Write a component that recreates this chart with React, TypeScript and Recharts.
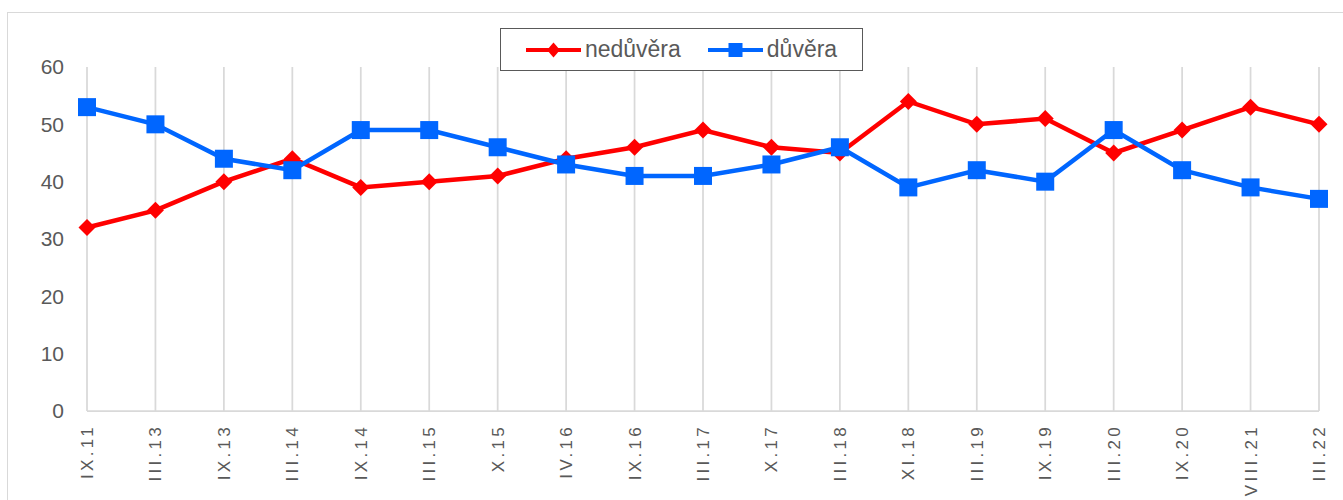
import React from "react";
import { CartesianGrid, Line, LineChart, XAxis, YAxis } from "recharts";

const obdobi = [
  "IX.11", "III.13", "IX.13", "III.14", "IX.14", "III.15", "X.15", "IV.16",
  "IX.16", "III.17", "X.17", "III.18", "XI.18", "III.19", "IX.19", "III.20",
  "IX.20", "VIII.21", "III.22",
];
const neduvera = [32, 35, 40, 44, 39, 40, 41, 44, 46, 49, 46, 45, 54, 50, 51, 45, 49, 53, 50];
const duvera = [53, 50, 44, 42, 49, 49, 46, 43, 41, 41, 43, 46, 39, 42, 40, 49, 42, 39, 37];
const yTicks = [0, 10, 20, 30, 40, 50, 60];

const data = obdobi.map((o, i) => ({ obdobi: o, neduvera: neduvera[i], duvera: duvera[i] }));

const RED = "#ff0000";
const BLUE = "#0066ff";
const FONT = "'Liberation Sans', Arial, sans-serif";

function Diamond(props: any) {
  const { cx, cy, fill, w = 8.5, h = 8.5 } = props;
  if (cx == null || cy == null) return null;
  return (
    <path
      d={`M${cx},${cy - h} L${cx + w},${cy} L${cx},${cy + h} L${cx - w},${cy} Z`}
      fill={fill}
    />
  );
}

function Square(props: any) {
  const { cx, cy, fill, s = 9 } = props;
  if (cx == null || cy == null) return null;
  return <rect x={cx - s} y={cy - s} width={s * 2} height={s * 2} fill={fill} />;
}

function XTick(props: any) {
  const { x, y, payload } = props;
  return (
    <g transform={`translate(${x},${y + 5})`}>
      <text
        transform="rotate(-90)"
        textAnchor="end"
        dy="0.35em"
        fontSize={17}
        letterSpacing={3.3}
        fill="#595959"
        fontFamily={FONT}
      >
        {payload.value}
      </text>
    </g>
  );
}

function Legenda() {
  const item = (label: string, color: string, kind: "d" | "s") => (
    <div style={{ display: "flex", alignItems: "center" }}>
      <svg width={55} height={20}>
        <line x1={0} y1={10} x2={55} y2={10} stroke={color} strokeWidth={4} strokeLinecap="round" />
        {kind === "d" ? (
          <Diamond cx={27.5} cy={10} fill={color} w={6.5} h={7.5} />
        ) : (
          <Square cx={27.5} cy={10} fill={color} s={7} />
        )}
      </svg>
      <span style={{ fontSize: 23, color: "#595959", marginLeft: 4 }}>{label}</span>
    </div>
  );
  return (
    <div
      style={{
        position: "absolute",
        left: 500,
        top: 28,
        width: 363,
        height: 43,
        border: "1px solid #595959",
        display: "flex",
        alignItems: "center",
        justifyContent: "center",
        gap: 27,
        fontFamily: FONT,
        background: "#fff",
        boxSizing: "border-box",
      }}
    >
      {item("nedůvěra", RED, "d")}
      {item("důvěra", BLUE, "s")}
    </div>
  );
}

export default function App() {
  return (
    <div style={{ position: "fixed", left: 0, top: 0, width: 1343, height: 500, background: "#fff", overflow: "hidden" }}>
      <div
        style={{
          position: "absolute",
          left: 7,
          top: 12,
          width: 1360,
          height: 520,
          border: "1px solid #d9d9d9",
        }}
      />
      <div style={{ position: "absolute", left: 0, top: 0 }}>
        <LineChart width={1343} height={500} data={data} margin={{ top: 67, right: 24, bottom: 0, left: 0 }}>
          <CartesianGrid horizontal={false} stroke="#d9d9d9" strokeWidth={1.75} />
          <XAxis
            dataKey="obdobi"
            scale="point"
            padding={{ left: 0, right: 0 }}
            interval={0}
            tickLine={false}
            axisLine={{ stroke: "#d9d9d9", strokeWidth: 1.75 }}
            tick={<XTick />}
            height={89}
          />
          <YAxis
            domain={[0, 60]}
            ticks={yTicks}
            width={87}
            tickLine={false}
            axisLine={false}
            tickMargin={17}
            tick={{ fontSize: 21, fill: "#595959", fontFamily: FONT }}
          />
          <Line
            type="linear"
            dataKey="neduvera"
            stroke={RED}
            strokeWidth={4.5}
            dot={<Diamond fill={RED} />}
            activeDot={false}
            isAnimationActive={false}
          />
          <Line
            type="linear"
            dataKey="duvera"
            stroke={BLUE}
            strokeWidth={4.5}
            dot={<Square fill={BLUE} />}
            activeDot={false}
            isAnimationActive={false}
          />
        </LineChart>
      </div>
      <Legenda />
    </div>
  );
}
